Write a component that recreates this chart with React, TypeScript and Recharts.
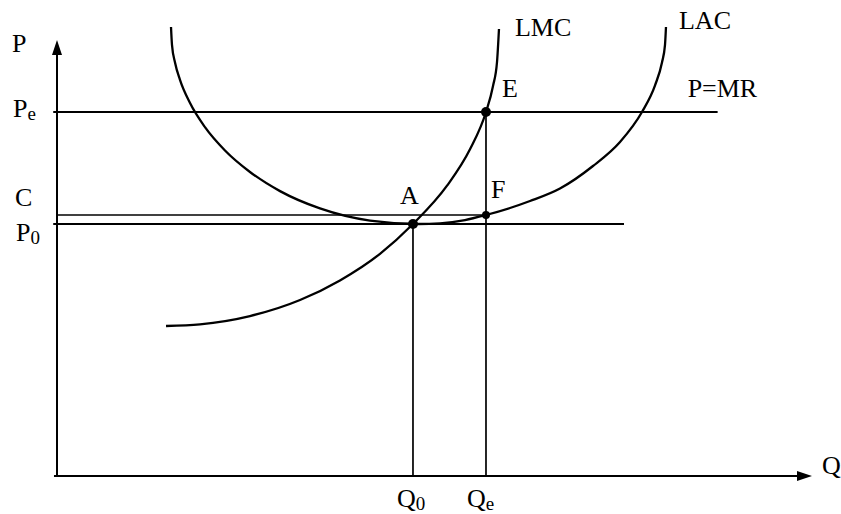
import { ComposedChart, Line, XAxis, YAxis, ReferenceLine, ReferenceDot } from "recharts";

const FONT = '"Liberation Serif", "Times New Roman", serif';

// long-run average cost (Q, P)
const lacQ = [15.1, 15.23, 15.63, 16.29, 17.62, 19.6, 22.25, 25.56, 29.54, 34.83, 41.46, 47.88, 50.73, 54.04, 56.82, 60.0, 62.65, 66.62, 70.99, 74.57, 77.48, 79.21, 80.13, 80.53, 80.66];
const lacP = [97.61, 93.74, 89.89, 86.11, 81.07, 75.83, 70.76, 66.09, 61.93, 58.17, 55.52, 54.78, 54.93, 55.63, 56.74, 58.26, 59.78, 62.5, 67.39, 72.61, 79.13, 84.93, 89.89, 93.74, 97.61];

// long-run marginal cost
const lmcQ = [14.44, 18.94, 25.56, 32.19, 37.48, 42.78, 47.15, 51.66, 54.7, 56.82, 57.75, 58.28, 58.54];
const lmcP = [32.61, 32.98, 34.78, 38.26, 42.52, 48.3, 54.78, 63.11, 71.02, 79.13, 84.78, 90.0, 97.17];

// marked quantities / prices
const quantityTicks = [47.15, 56.82];
const quantityLabels = ["Q0", "Qe"];
const priceTicks = [54.78, 56.74, 79.13];
const priceLabels = ["P0", "C", "Pe"];

const [Q0, Qe] = quantityTicks;
const [P0, C, Pe] = priceTicks;

const Q_MAX = 100;
const P_MAX = 100;
const P_ARROW = 94.8; // where the price axis arrow ends
const MR_END = 87.5; // right end of P=MR
const P0_END = 75.1; // right end of the P0 line

const lacData = lacQ.map((q, i) => ({ q, p: lacP[i] }));
const lmcData = lmcQ.map((q, i) => ({ q, p: lmcP[i] }));

// label offsets in px from the tick point
const tickNudge: Record<string, [number, number]> = {
  Q0: [-16, 31],
  Qe: [-19, 31],
  Pe: [-44, 5],
  C: [-42, -9],
  P0: [-41, 17],
};

function SubText({ x, y, text }: { x: number; y: number; text: string }) {
  const main = text[0];
  const sub = text.slice(1);
  return (
    <text x={x} y={y} fontFamily={FONT} fontSize={26} fill="#000">
      {main}
      {sub && (
        <tspan fontSize={19} dy={3}>
          {sub}
        </tspan>
      )}
    </text>
  );
}

function QTick(props: any) {
  const { x, y, payload } = props;
  const name = quantityLabels[quantityTicks.indexOf(payload.value)];
  const [dx, dy] = tickNudge[name];
  return <SubText x={x + dx} y={y + dy} text={name} />;
}

function PTick(props: any) {
  const { x, y, payload } = props;
  const name = priceLabels[priceTicks.indexOf(payload.value)];
  const [dx, dy] = tickNudge[name];
  // C has no subscript, keep it whole
  if (name === "C") {
    return (
      <text x={x + dx} y={y + dy} fontFamily={FONT} fontSize={26} fill="#000">
        C
      </text>
    );
  }
  return <SubText x={x + dx} y={y + dy} text={name} />;
}

const tag = (text: string, dx: number, dy: number) => (props: any) => {
  const vb = props.viewBox || { x: 0, y: 0, width: 0, height: 0 };
  const cx = vb.x + vb.width / 2;
  const cy = vb.y + vb.height / 2;
  return (
    <text x={cx + dx} y={cy + dy} fontFamily={FONT} fontSize={26} fill="#000">
      {text}
    </text>
  );
};

const arrowAxis = (name: string, dx: number, dy: number) => (props: any) => {
  const { x1, y1, x2, y2 } = props;
  const len = Math.hypot(x2 - x1, y2 - y1) || 1;
  const ux = (x2 - x1) / len;
  const uy = (y2 - y1) / len;
  const head = 15;
  const half = 5;
  const bx = x2 - ux * head;
  const by = y2 - uy * head;
  const pts = `${x2},${y2} ${bx - uy * half},${by + ux * half} ${bx + uy * half},${by - ux * half}`;
  return (
    <g>
      <line x1={x1} y1={y1} x2={bx} y2={by} stroke="#000" strokeWidth={2} />
      <polygon points={pts} fill="#000" />
      <text x={x2 + dx} y={y2 + dy} fontFamily={FONT} fontSize={26} fill="#000">
        {name}
      </text>
    </g>
  );
};

export default function App() {
  return (
    <div style={{ position: "absolute", left: 0, top: 0, width: 841, height: 514, background: "#fff" }}>
      <ComposedChart width={841} height={514} margin={{ top: 16, right: 29, bottom: 0, left: 0 }}>
        <XAxis
          type="number"
          dataKey="q"
          domain={[0, Q_MAX]}
          ticks={quantityTicks}
          interval={0}
          height={38}
          axisLine={false}
          tickLine={false}
          tickSize={0}
          tickMargin={0}
          tick={<QTick />}
        />
        <YAxis
          type="number"
          dataKey="p"
          domain={[0, P_MAX]}
          ticks={priceTicks}
          interval={0}
          width={57}
          axisLine={false}
          tickLine={false}
          tickSize={0}
          tickMargin={0}
          tick={<PTick />}
        />

        {/* axes with arrows */}
        <ReferenceLine
          segment={[{ x: 0, y: -0.2 }, { x: 0, y: P_ARROW }]}
          ifOverflow="visible"
          shape={arrowAxis("P", -45, 12)}
        />
        <ReferenceLine
          segment={[{ x: -0.4, y: 0 }, { x: Q_MAX, y: 0 }]}
          ifOverflow="visible"
          shape={arrowAxis("Q", 10, -2)}
        />

        {/* price / quantity guides */}
        <ReferenceLine segment={[{ x: -0.5, y: Pe }, { x: MR_END, y: Pe }]} ifOverflow="visible" stroke="#000" strokeWidth={2} />
        <ReferenceLine segment={[{ x: 0, y: C }, { x: Qe, y: C }]} ifOverflow="visible" stroke="#000" strokeWidth={1.3} />
        <ReferenceLine segment={[{ x: -0.5, y: P0 }, { x: P0_END, y: P0 }]} ifOverflow="visible" stroke="#000" strokeWidth={2} />
        <ReferenceLine segment={[{ x: Q0, y: 0 }, { x: Q0, y: P0 }]} ifOverflow="visible" stroke="#000" strokeWidth={1.7} />
        <ReferenceLine segment={[{ x: Qe, y: 0 }, { x: Qe, y: Pe }]} ifOverflow="visible" stroke="#000" strokeWidth={1.7} />

        <Line
          data={lacData}
          dataKey="p"
          type="monotone"
          stroke="#000"
          strokeWidth={2.3}
          dot={false}
          activeDot={false}
          isAnimationActive={false}
        />
        <Line
          data={lmcData}
          dataKey="p"
          type="monotone"
          stroke="#000"
          strokeWidth={2.3}
          dot={false}
          activeDot={false}
          isAnimationActive={false}
        />

        {/* curve names */}
        <ReferenceDot x={lmcQ[lmcQ.length - 1]} y={lmcP[lmcP.length - 1]} r={0} fill="none" stroke="none" label={tag("LMC", 16, 7)} />
        <ReferenceDot x={lacQ[lacQ.length - 1]} y={lacP[lacP.length - 1]} r={0} fill="none" stroke="none" label={tag("LAC", 13, 2)} />
        <ReferenceDot x={MR_END} y={Pe} r={0} fill="none" stroke="none" label={tag("P=MR", -30, -15)} />

        {/* points */}
        <ReferenceDot x={Q0} y={P0} r={5} fill="#000" stroke="none" label={tag("A", -13, -20)} />
        <ReferenceDot x={Qe} y={Pe} r={5} fill="#000" stroke="none" label={tag("E", 16, -15)} />
        <ReferenceDot x={Qe} y={C} r={4} fill="#000" stroke="none" label={tag("F", 5, -17)} />
      </ComposedChart>
    </div>
  );
}
